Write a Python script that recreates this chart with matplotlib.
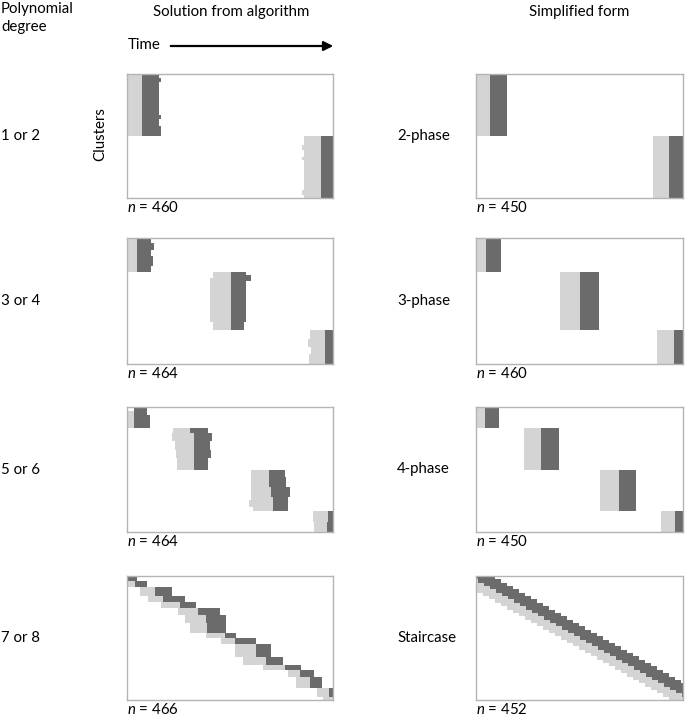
"""Cluster phases over time: algorithm solution vs simplified form."""

import matplotlib.pyplot as plt
from matplotlib.patches import FancyArrowPatch

plt.rcParams["font.family"] = ["Lato", "DejaVu Sans"]
plt.rcParams["font.size"] = 10.8
plt.rcParams["mathtext.fontset"] = "custom"
plt.rcParams["mathtext.rm"] = "Lato"
plt.rcParams["mathtext.it"] = "Lato:italic"

LIGHT = "#d4d4d4"
DARK = "#6b6b6b"
EDGE = "#b4b4b4"

# each row: (cluster_start, cluster_end, light_start, dark_start, dark_end)
# time runs 0..100 across the panel, clusters 0..60 top to bottom
ALG_12 = [
    (0, 2, 0, 7.3, 15.3), (2, 4, 0, 7.3, 16.5), (4, 20, 0, 7.3, 15.3),
    (20, 22, 0, 7.3, 16.5), (22, 25, 0, 7.3, 15.3), (25, 30, 0, 7.3, 16.5),
    (30, 34.3, 86, 94.2, 100), (34.3, 36.7, 85, 94.2, 100), (36.7, 40, 86, 94.2, 100),
    (40, 41.5, 85, 94.2, 100), (41.5, 56, 86, 94.2, 100), (56, 58.5, 85, 94.2, 100),
    (58.5, 60, 86, 94.2, 100),
]
ALG_34 = [
    (0, 2.4, 0, 4.9, 11.8), (2.4, 5.6, 0, 4.9, 13), (5.6, 8.7, 0, 4.9, 11.8),
    (8.7, 13.5, 0, 4.9, 12.7), (13.5, 16, 0, 4.9, 11.5),
    (16, 17.5, 41.8, 50.7, 58), (17.5, 19, 41.8, 50.7, 60.4), (19, 20.7, 40.5, 50.7, 60.4),
    (20.7, 39.8, 40.5, 50.7, 58), (39.8, 44, 41.8, 50.7, 56.6),
    (44, 48, 89, 96, 100), (48, 52, 88, 96, 100), (52, 55, 89.5, 96, 100),
    (55, 60, 88.5, 96, 100),
]
ALG_56 = [
    (0, 2, 3.2, 3.2, 9.7), (2, 3.7, 0, 3.2, 9.7), (3.7, 10, 0, 3.2, 11),
    (10, 12.4, 22.3, 30.4, 39.3), (12.4, 16.4, 22, 32.4, 41.4), (16.4, 20.4, 23.2, 32.4, 40.1),
    (20.4, 24.4, 24, 32.4, 41), (24.4, 30, 24.3, 32.4, 39.3),
    (30, 33.4, 60, 68.9, 76.9), (33.4, 38.2, 60, 68.9, 77.4), (38.2, 43, 60, 70.1, 79),
    (43, 44.6, 60, 70.9, 78.2), (44.6, 47.8, 59.3, 70.9, 78.2), (47.8, 50, 61.2, 70.9, 78.2),
    (50, 55, 90.3, 97.6, 100), (55, 60, 90.8, 97, 100),
]
ALG_78 = [
    (0, 2.3, 0, 0, 4.9), (2.3, 5.5, 0, 3.7, 9.7), (5.5, 9.7, 6.1, 13.4, 22),
    (9.7, 12.4, 10.2, 17.5, 28), (12.4, 15.6, 16.7, 25.6, 33.3), (15.6, 18.9, 24.8, 34.5, 45),
    (18.9, 22.9, 28, 38.5, 47.9), (22.9, 27.7, 30.4, 38.8, 48.2), (27.7, 30.2, 38.5, 47.4, 53),
    (30.2, 32.9, 45.8, 52.3, 62.8), (32.9, 39, 52.3, 62.5, 70), (39, 43, 56.3, 67.6, 75.7),
    (43, 45.5, 66, 76.5, 84.6), (45.5, 48.7, 78, 83.8, 91), (48.7, 54.4, 82.2, 89, 94.8),
    (54.4, 58.4, 92, 98, 100), (58.4, 60, 95, 100, 100),
]

SIMPLE_2 = [(0, 30, 0, 7, 15), (30, 60, 85.5, 93.2, 100)]
SIMPLE_3 = [(0, 16, 0, 4.8, 12), (16, 44, 40.5, 50, 59.5), (44, 60, 87.5, 95.5, 100)]
SIMPLE_4 = [(0, 10, 0, 4.3, 11), (10, 30, 23.1, 31.3, 40), (30, 50, 60, 69, 77.5),
            (50, 60, 89.4, 96, 100)]

# staircase: one step per row, dark phase start per step
STAIR_DARK_START = [-2, 0.9, 3.8, 6.7, 9.6, 12.5, 15.4, 18.3, 21.2, 24.1, 27, 29.9,
                    32.8, 35.7, 38.6, 41.5, 44.4, 47.3, 50.2, 53.1, 56, 58.9, 61.8,
                    64.7, 67.6, 70.5, 73.4, 76.3, 79.2, 82.1, 85, 87.9, 90.8, 93.7,
                    96.6, 99.5, 102.4]
STAIR_LIGHT_LEN = 9.0
STAIR_DARK_LEN = 11.0

DEGREES = ["1 or 2", "3 or 4", "5 or 6", "7 or 8"]
FORMS = ["2-phase", "3-phase", "4-phase", "Staircase"]
N_ALG = [460, 464, 464, 466]
N_SIMPLE = [450, 460, 450, 452]


def staircase_rows():
    h = 60 / len(STAIR_DARK_START)
    return [(i * h, (i + 1) * h, d - STAIR_LIGHT_LEN, d, d + STAIR_DARK_LEN)
            for i, d in enumerate(STAIR_DARK_START)]


def draw_panel(ax, rows):
    for c0, c1, l0, d0, d1 in rows:
        if d0 > l0:
            ax.barh(c0, d0 - l0, left=l0, height=c1 - c0, align="edge",
                    color=LIGHT, linewidth=0)
        if d1 > d0:
            ax.barh(c0, d1 - d0, left=d0, height=c1 - c0, align="edge",
                    color=DARK, linewidth=0)
    ax.set_xlim(0, 100)
    ax.set_ylim(60, 0)
    ax.set_xticks([])
    ax.set_yticks([])
    for s in ax.spines.values():
        s.set_color(EDGE)
        s.set_linewidth(1)


W, H = 685, 717
fig = plt.figure(figsize=(W / 100, H / 100), dpi=100)


def fx(x):
    return x / W


def fy(y):
    return 1 - y / H


alg_panels = [ALG_12, ALG_34, ALG_56, ALG_78]
simple_panels = [SIMPLE_2, SIMPLE_3, SIMPLE_4, staircase_rows()]
row_px = [(74, 198), (238, 364), (407, 532), (576, 700)]

for i, (top, bot) in enumerate(row_px):
    axl = fig.add_axes([fx(127), fy(bot), fx(333) - fx(127), (bot - top) / H])
    draw_panel(axl, alg_panels[i])
    axr = fig.add_axes([fx(476), fy(bot), fx(683) - fx(476), (bot - top) / H])
    draw_panel(axr, simple_panels[i])

    mid = (top + bot) / 2
    fig.text(fx(1), fy(mid), DEGREES[i], ha="left", va="center")
    fig.text(fx(397), fy(mid), FORMS[i], ha="left", va="center")
    fig.text(fx(127), fy(bot + 10), f"$n$ = {N_ALG[i]}", ha="left", va="center")
    fig.text(fx(476), fy(bot + 10), f"$n$ = {N_SIMPLE[i]}", ha="left", va="center")

fig.text(fx(1), fy(2), "Polynomial\ndegree", ha="left", va="top", linespacing=1.35)
fig.text(fx(231), fy(12), "Solution from algorithm", ha="center", va="center")
fig.text(fx(579), fy(12), "Simplified form", ha="center", va="center")
fig.text(fx(128), fy(45), "Time", ha="left", va="center")
fig.text(fx(100), fy(134), "Clusters", ha="center", va="center", rotation=90)

arrow = FancyArrowPatch((fx(168), fy(46)), (fx(336), fy(46)), transform=fig.transFigure,
                        arrowstyle="-|>", mutation_scale=14, color="black", linewidth=1.6)
fig.add_artist(arrow)

fig.savefig("out.png", dpi=100)
